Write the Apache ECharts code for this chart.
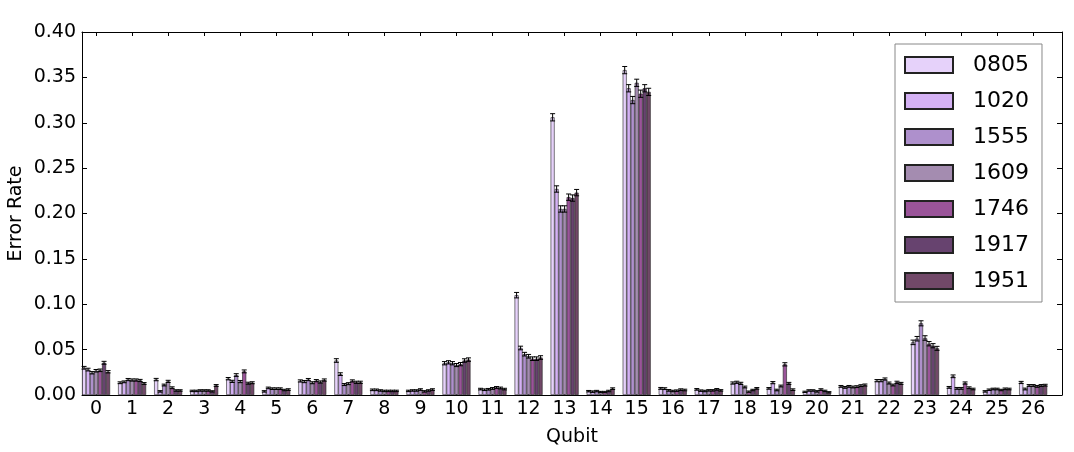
<!DOCTYPE html>
<html>
<head>
<meta charset="utf-8">
<script src="https://cdn.jsdelivr.net/npm/echarts@6/dist/echarts.min.js"></script>
<style>
  html, body { margin: 0; padding: 0; background: #fff; }
  #chart { width: 1074px; height: 452px; }
</style>
</head>
<body>
<div id="chart"></div>
<script>
const qubits = [0, 1, 2, 3, 4, 5, 6, 7, 8, 9, 10, 11, 12, 13, 14, 15, 16, 17, 18, 19, 20, 21, 22, 23, 24, 25, 26]
const runs = ['0805', '1020', '1555', '1609', '1746', '1917', '1951']

// error rate per qubit, one array per run
const v0805 = [0.030, 0.0135, 0.017, 0.0045, 0.018, 0.004, 0.0155, 0.038, 0.0057, 0.0045, 0.035, 0.0065, 0.110, 0.306, 0.0042, 0.358, 0.0073, 0.0062, 0.0132, 0.0073, 0.0035, 0.0095, 0.0158, 0.058, 0.0084, 0.004, 0.0138]
const v1020 = [0.028, 0.0145, 0.004, 0.0045, 0.015, 0.0078, 0.0148, 0.023, 0.0057, 0.005, 0.036, 0.0058, 0.0518, 0.227, 0.0037, 0.338, 0.007, 0.0048, 0.014, 0.0136, 0.005, 0.0084, 0.0158, 0.062, 0.0206, 0.0058, 0.0066]
const v1555 = [0.0245, 0.017, 0.011, 0.005, 0.022, 0.007, 0.017, 0.0115, 0.005, 0.005, 0.035, 0.0063, 0.045, 0.205, 0.0043, 0.325, 0.0051, 0.0044, 0.0128, 0.0055, 0.005, 0.0095, 0.0176, 0.079, 0.0073, 0.0066, 0.0105]
const v1609 = [0.0267, 0.0165, 0.015, 0.005, 0.0148, 0.007, 0.0135, 0.0125, 0.0045, 0.006, 0.033, 0.0072, 0.0427, 0.205, 0.0033, 0.344, 0.0044, 0.0051, 0.0088, 0.0099, 0.004, 0.0088, 0.0132, 0.0628, 0.0073, 0.0066, 0.0105]
const v1746 = [0.0272, 0.0165, 0.008, 0.005, 0.026, 0.007, 0.0158, 0.0155, 0.0045, 0.004, 0.034, 0.0083, 0.040, 0.218, 0.0033, 0.332, 0.0048, 0.0051, 0.0037, 0.0338, 0.006, 0.0092, 0.011, 0.0565, 0.0132, 0.0055, 0.0095]
const v1917 = [0.0355, 0.016, 0.005, 0.004, 0.013, 0.0055, 0.0143, 0.014, 0.0045, 0.005, 0.038, 0.0077, 0.040, 0.217, 0.0044, 0.338, 0.0059, 0.0062, 0.0055, 0.0128, 0.0045, 0.0103, 0.014, 0.0543, 0.008, 0.0068, 0.0105]
const v1951 = [0.0256, 0.0127, 0.005, 0.0105, 0.0135, 0.006, 0.0165, 0.014, 0.0045, 0.006, 0.039, 0.0065, 0.0413, 0.223, 0.007, 0.334, 0.0055, 0.0051, 0.0073, 0.0059, 0.003, 0.011, 0.0128, 0.0514, 0.0066, 0.0066, 0.0108]

// half-length of the error bars
const e0805 = [0.0015, 0.001, 0.0013, 0.0008, 0.0013, 0.0008, 0.0012, 0.002, 0.0009, 0.0008, 0.0018, 0.0009, 0.003, 0.004, 0.0008, 0.004, 0.001, 0.0009, 0.0012, 0.0009, 0.0007, 0.001, 0.0012, 0.0025, 0.001, 0.0008, 0.0012]
const e1020 = [0.0015, 0.001, 0.0008, 0.0008, 0.0012, 0.0009, 0.0012, 0.0015, 0.0009, 0.0008, 0.0018, 0.0009, 0.002, 0.0035, 0.0008, 0.004, 0.001, 0.0008, 0.0012, 0.0012, 0.0008, 0.001, 0.0012, 0.0025, 0.0015, 0.0008, 0.001]
const e1555 = [0.0013, 0.0012, 0.001, 0.0008, 0.0015, 0.0009, 0.0012, 0.0011, 0.0008, 0.0008, 0.0018, 0.0009, 0.002, 0.0035, 0.0008, 0.004, 0.0009, 0.0008, 0.0012, 0.0009, 0.0008, 0.001, 0.0012, 0.0028, 0.001, 0.0009, 0.001]
const e1609 = [0.0014, 0.0012, 0.0012, 0.0008, 0.0012, 0.0009, 0.0011, 0.0011, 0.0008, 0.0009, 0.0017, 0.001, 0.002, 0.0035, 0.0007, 0.004, 0.0008, 0.0008, 0.001, 0.001, 0.0008, 0.001, 0.0011, 0.0025, 0.001, 0.0009, 0.001]
const e1746 = [0.0014, 0.0012, 0.001, 0.0008, 0.0016, 0.0009, 0.0012, 0.0012, 0.0008, 0.0008, 0.0018, 0.001, 0.002, 0.0035, 0.0007, 0.004, 0.0008, 0.0008, 0.0007, 0.0018, 0.0009, 0.001, 0.001, 0.0024, 0.0012, 0.0008, 0.001]
const e1917 = [0.0016, 0.0012, 0.0008, 0.0007, 0.0011, 0.0008, 0.0012, 0.0012, 0.0008, 0.0008, 0.0019, 0.001, 0.002, 0.0035, 0.0008, 0.004, 0.0009, 0.0009, 0.0008, 0.0011, 0.0008, 0.001, 0.0012, 0.0023, 0.001, 0.0009, 0.001]
const e1951 = [0.0013, 0.001, 0.0008, 0.001, 0.0011, 0.0009, 0.0012, 0.0012, 0.0008, 0.0009, 0.0019, 0.0009, 0.002, 0.0035, 0.0009, 0.004, 0.0009, 0.0008, 0.0009, 0.0009, 0.0007, 0.0011, 0.0011, 0.0022, 0.0009, 0.0009, 0.001]

const yTicks = [0, 0.05, 0.1, 0.15, 0.2, 0.25, 0.3, 0.35, 0.4]

const values = [v0805, v1020, v1555, v1609, v1746, v1917, v1951]
const errors = [e0805, e1020, e1555, e1609, e1746, e1917, e1951]
const COLORS = ['#e6d2fa', '#d4b1f4', '#ae90cc', '#a48cb0', '#9a5499', '#67436f', '#714868']

const FONT = 'DejaVu Sans'
const BAR_W = 4

const chart = echarts.init(document.getElementById('chart'))

const barSeries = runs.map((name, k) => ({
  name,
  type: 'bar',
  barWidth: BAR_W,
  barGap: '0%',
  itemStyle: { color: COLORS[k], borderColor: '#222', borderWidth: 0.6 },
  data: qubits.map((q, i) => [q, values[k][i]])
}))

const errSeries = runs.map((name, k) => ({
  name: name + ' err',
  type: 'custom',
  z: 3,
  silent: true,
  encode: { x: 0, y: 1 },
  data: qubits.map((q, i) => [q, values[k][i], errors[k][i]]),
  renderItem: (params, api) => {
    const x = api.value(0), v = api.value(1), e = api.value(2)
    const off = (k - (runs.length - 1) / 2) * BAR_W
    const top = api.coord([x, v + e])
    const bot = api.coord([x, v - e])
    const cx = top[0] + off
    const style = { stroke: '#000', lineWidth: 1 }
    return {
      type: 'group',
      children: [
        { type: 'line', shape: { x1: cx, y1: top[1], x2: cx, y2: bot[1] }, style },
        { type: 'line', shape: { x1: cx - 2.5, y1: top[1], x2: cx + 2.5, y2: top[1] }, style },
        { type: 'line', shape: { x1: cx - 2.5, y1: bot[1], x2: cx + 2.5, y2: bot[1] }, style }
      ]
    }
  }
}))

const axisLine = { show: true, onZero: false, lineStyle: { color: '#000', width: 1 } }

chart.setOption({
  animation: false,
  textStyle: { fontFamily: FONT },
  grid: { left: 82, right: 12, top: 32, bottom: 57, outerBoundsMode: 'none' },
  legend: {
    data: runs,
    orient: 'vertical',
    left: 895,
    top: 44,
    z: 10,
    padding: [10, 13, 10, 9],
    itemWidth: 48,
    itemHeight: 16,
    itemGap: 14,
    icon: 'rect',
    borderColor: '#888',
    borderWidth: 1,
    backgroundColor: '#fff',
    textStyle: { fontSize: 22, color: '#000', fontFamily: FONT, padding: [0, 0, 0, 15] }
  },
  xAxis: [{
    type: 'value',
    min: -0.39,
    max: 26.8,
    position: 'bottom',
    name: 'Qubit',
    nameLocation: 'middle',
    nameGap: 33,
    nameMoveOverlap: false,
    nameTextStyle: { fontSize: 19, color: '#000' },
    axisLine,
    axisTick: { show: true, inside: true, length: 4, customValues: qubits, lineStyle: { color: '#000' } },
    axisLabel: { show: true, customValues: qubits, fontSize: 19, color: '#000', margin: 5 },
    splitLine: { show: false }
  }, {
    type: 'value',
    min: -0.39,
    max: 26.8,
    position: 'top',
    axisLine,
    axisTick: { show: true, inside: true, length: 4, customValues: qubits, lineStyle: { color: '#000' } },
    axisLabel: { show: false },
    splitLine: { show: false }
  }],
  yAxis: [{
    type: 'value',
    min: 0,
    max: 0.4,
    position: 'left',
    name: 'Error Rate',
    nameLocation: 'middle',
    nameGap: 56,
    nameMoveOverlap: false,
    nameTextStyle: { fontSize: 19, color: '#000' },
    axisLine,
    axisTick: { show: true, inside: true, length: 5, customValues: yTicks, lineStyle: { color: '#000' } },
    axisLabel: { customValues: yTicks, fontSize: 19, color: '#000', margin: 6, formatter: v => v.toFixed(2) },
    splitLine: { show: false }
  }, {
    type: 'value',
    min: 0,
    max: 0.4,
    position: 'right',
    axisLine,
    axisTick: { show: true, inside: true, length: 5, customValues: yTicks, lineStyle: { color: '#000' } },
    axisLabel: { show: false },
    splitLine: { show: false }
  }],
  series: [...barSeries, ...errSeries]
})
</script>
</body>
</html>
